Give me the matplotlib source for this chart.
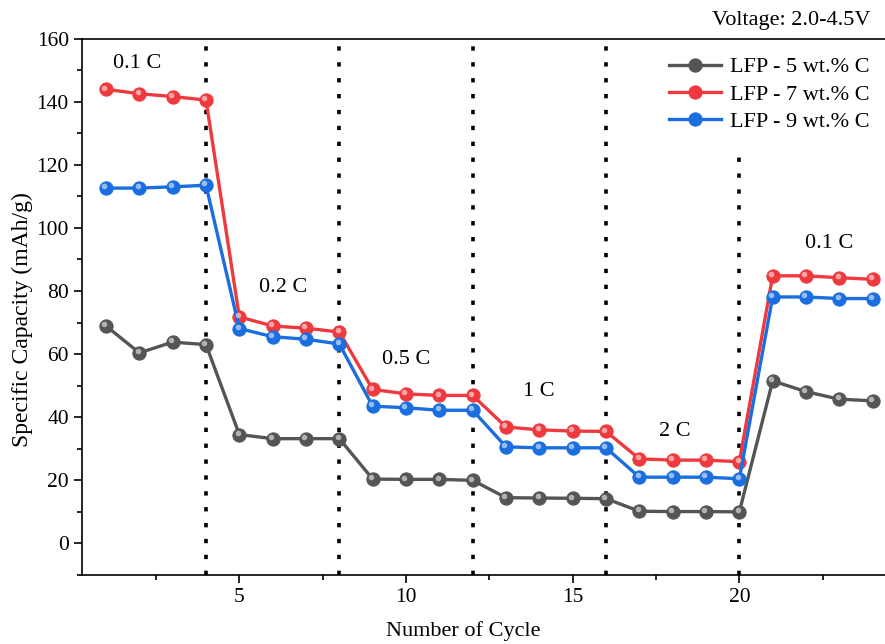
import matplotlib
matplotlib.use("Agg")
import matplotlib.pyplot as plt
import matplotlib.transforms as mtransforms
from matplotlib.ticker import MultipleLocator

plt.rcParams['font.family'] = ['Liberation Serif', 'DejaVu Serif']
plt.rcParams['mathtext.fontset'] = 'stix'

cycles = list(range(1, 25))
lfp5 = [68.9, 60.4, 63.8, 63.0, 34.5, 33.2, 33.2, 33.2, 20.4, 20.3, 20.3, 20.0,
        14.5, 14.4, 14.3, 14.2, 10.2, 10.1, 10.1, 10.0, 51.5, 48.1, 45.7, 45.2]
lfp7 = [143.9, 142.5, 141.6, 140.5, 71.8, 68.9, 68.2, 67.0, 48.8, 47.4, 46.9, 46.9,
        36.9, 36.0, 35.6, 35.5, 26.8, 26.4, 26.4, 25.9, 84.8, 84.8, 84.2, 83.7]
lfp9 = [112.6, 112.6, 113.0, 113.5, 68.1, 65.5, 64.7, 63.2, 43.5, 43.0, 42.2, 42.2,
        30.6, 30.3, 30.3, 30.3, 21.0, 21.0, 21.0, 20.5, 78.1, 78.1, 77.6, 77.6]
series_labels = ['LFP - 5 wt.% C', 'LFP - 7 wt.% C', 'LFP - 9 wt.% C']
colors = ['#555555', '#ee3a3f', '#1a6ee0']

divider_x = [4, 8, 12, 16, 20]
divider_top = [160, 160, 160, 160, 125]

rate_labels = ['0.1 C', '0.2 C', '0.5 C', '1 C', '2 C', '0.1 C']
rate_x = [1.95, 6.32, 10.02, 13.97, 18.05, 22.7]
rate_y = [152.0, 81.0, 58.2, 48.3, 35.5, 95.0]

fig = plt.figure(figsize=(8.85, 6.44), dpi=100)
ax = fig.add_axes([82/885, 1-575/644, 1-82/885, (575-38.5)/644])

ax.vlines(divider_x, -10, divider_top, colors='black', linestyles=(0, (1.2, 3.2)),
          linewidth=2.6, zorder=1)

hl = mtransforms.offset_copy(ax.transData, fig=fig, x=-1.3, y=1.3, units='points')
for data, lab, c in zip([lfp5, lfp7, lfp9], series_labels, colors):
    ax.plot(cycles, data, color=c, lw=2.4, marker='o', ms=9.5, mfc=c, mec=c,
            mew=0.8, label=lab, zorder=3)
    ax.plot(cycles, data, ls='none', marker='o', ms=4.0, mfc='white', mec='none',
            alpha=0.55, transform=hl, zorder=4)

for t, x, y in zip(rate_labels, rate_x, rate_y):
    ax.text(x, y, t, ha='center', va='center', fontsize=16)

ax.set_xlim(0.28, 24.37)
ax.set_ylim(-10, 160)
ax.xaxis.set_major_locator(MultipleLocator(5))
ax.xaxis.set_minor_locator(MultipleLocator(2.5))
ax.yaxis.set_major_locator(MultipleLocator(20))
ax.yaxis.set_minor_locator(MultipleLocator(10))
ax.tick_params(which='both', direction='out', labelsize=15.5, width=1.2)
ax.tick_params(which='major', length=6)
ax.tick_params(which='minor', length=3.5)
ax.spines['right'].set_visible(False)
for s in ['left', 'bottom', 'top']:
    ax.spines[s].set_linewidth(1.2)

ax.set_ylabel('Specific Capacity (mAh/g)', fontsize=17)
ax.yaxis.set_label_coords(-0.061, 0.477)
ax.set_xlabel('Number of Cycle', fontsize=16)
ax.xaxis.set_label_coords((463-82)/(885-82), -0.0857)

fig.text(871/885, 1-20/644, 'Voltage: 2.0-4.5V', ha='right', va='center', fontsize=16)

leg = ax.legend(loc='upper right', bbox_to_anchor=(1.0, 0.995), frameon=False,
                fontsize=16, handlelength=2.35, labelspacing=0.3, handletextpad=0.4,
                borderaxespad=0.3)

fig.savefig('out.png', dpi=100)
